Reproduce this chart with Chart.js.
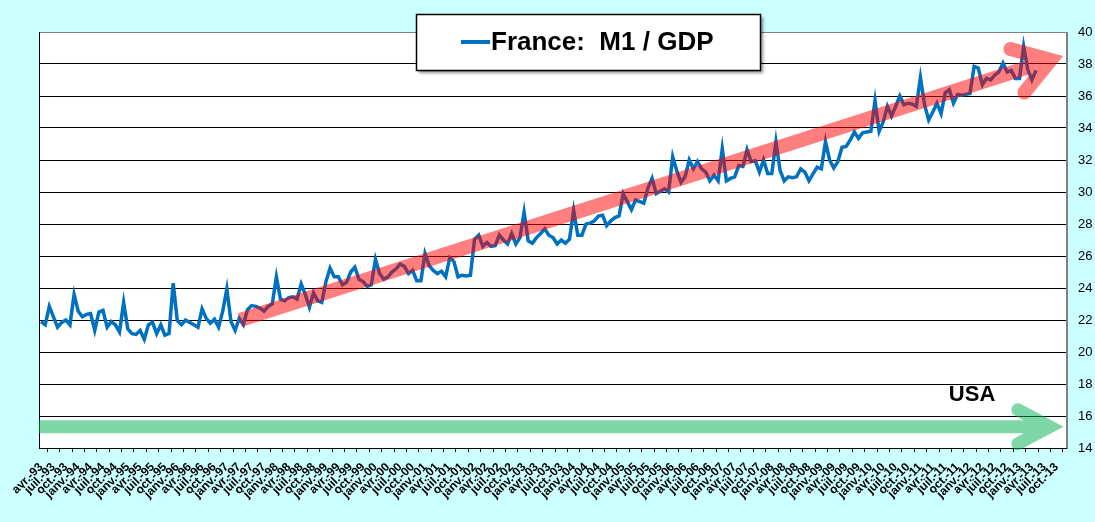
<!DOCTYPE html>
<html>
<head>
<meta charset="utf-8">
<script src="https://cdn.jsdelivr.net/npm/chart.js@4"></script>
<style>
  html, body { margin: 0; padding: 0; background: #CCFFFF; }
  #c { display: block; }
</style>
</head>
<body>
<canvas id="c" width="1095" height="522"></canvas>
<script>
// ---------- DATA ----------
const monthNames = ['janv.','févr.','mars','avr.','mai','juin','juil.','août','sept.','oct.','nov.','déc.'];
const firstYear = 1993;
const firstMonthIndex = 3;      // avr.
const monthCount = 249;         // avr.-93 .. déc.-13
const seriesLabel = 'France:  M1 / GDP';
const franceM1GDP = [
  21.9,21.7,22.85,22.2,21.55,21.85,22.0,21.7,23.6,22.55,22.2,22.35,
  22.4,21.35,22.5,22.6,21.55,21.9,21.7,21.25,23.1,21.45,21.15,21.1,
  21.35,20.8,21.7,21.85,21.15,21.7,21.05,21.15,24.3,21.95,21.7,22.0,
  21.85,21.7,21.55,22.7,22.1,21.8,22.05,21.55,22.55,23.95,21.9,21.35,
  22.1,21.7,22.65,22.9,22.85,22.75,22.55,22.85,23.0,24.7,23.3,23.2,
  23.4,23.45,23.3,24.25,23.6,22.8,23.7,23.2,23.1,24.4,25.25,24.7,
  24.7,24.2,24.35,25.0,25.3,24.55,24.4,24.1,24.2,25.8,24.9,24.55,
  24.7,25.0,25.2,25.5,25.35,24.9,25.1,24.45,24.45,26.15,25.4,25.1,
  24.9,25.05,24.7,25.9,25.65,24.7,24.8,24.75,24.8,27.05,27.3,26.6,
  26.85,26.6,26.65,27.3,27.0,26.75,27.4,26.75,27.15,28.75,26.95,26.8,
  27.15,27.4,27.7,27.3,27.15,26.75,27.0,26.8,27.05,28.85,27.3,27.3,
  28.0,28.05,28.2,28.5,28.55,27.9,28.2,28.4,28.5,29.9,29.4,28.9,
  29.5,29.4,29.3,30.25,30.85,29.9,30.05,30.2,30.0,32.2,31.3,30.6,
  30.95,32.0,31.45,31.9,31.45,31.25,30.7,31.05,30.7,32.7,30.7,30.85,
  30.95,31.65,31.6,32.65,31.9,31.95,31.25,32.0,31.15,31.15,33.15,31.35,
  30.7,30.95,30.9,30.95,31.45,31.25,30.7,31.15,31.55,31.45,33.15,32.0,
  31.5,31.9,32.8,32.85,33.25,33.75,33.35,33.7,33.75,33.8,35.7,33.8,
  34.4,35.35,34.75,35.35,36.0,35.45,35.55,35.5,35.35,37.15,35.45,34.5,
  35.0,35.55,34.9,36.2,36.4,35.55,36.1,36.05,36.1,36.15,37.85,37.75,
  36.7,37.1,37.0,37.3,37.5,38.05,37.5,37.6,37.1,37.1,39.1,37.65,
  37.0,37.6
];
const yMin = 14, yMax = 40, yStep = 2;
const usaLabel = 'USA';

// labels built from month names
const monthLabels = [];
for (let k = 0; k < monthCount; k++) {
  const m = (firstMonthIndex + k) % 12;
  const y = firstYear + Math.floor((firstMonthIndex + k) / 12);
  monthLabels.push(monthNames[m] + '-' + String(y % 100).padStart(2, '0'));
}

// ---------- annotation geometry (data units) ----------
const redArrow = { from: [48.2, 22.0], to: [244.6, 38.25], wingDeg: 33, wingLen: 42, width: 14, color: '#FF0000' };
const greenArrow = { from: [-0.5, 15.33], to: [244.3, 15.33], wingDeg: 28, wingLen: 36, width: 13, color: '#00B050' };
const usaPos = [225.5, 17.3];

const FONT = '"Liberation Sans", Arial, sans-serif';

function drawArrow(ctx, xs, ys, a, chart) {
  const x1 = xs.getPixelForValue(a.from[0]), y1 = ys.getPixelForValue(a.from[1]);
  const x2 = xs.getPixelForValue(a.to[0]), y2 = ys.getPixelForValue(a.to[1]);
  const ang = Math.atan2(y1 - y2, x1 - x2);
  const w = a.wingDeg * Math.PI / 180;
  const off = document.createElement('canvas');
  off.width = chart.width; off.height = chart.height;
  const o = off.getContext('2d');
  o.strokeStyle = a.color;
  o.fillStyle = a.color;
  o.lineWidth = a.width;
  o.lineJoin = 'miter';
  o.miterLimit = 10;
  // shaft
  o.lineCap = 'butt';
  o.beginPath();
  o.moveTo(x1, y1);
  o.lineTo(x2, y2);
  o.stroke();
  // head
  o.lineCap = 'round';
  o.beginPath();
  o.moveTo(x2 + Math.cos(ang + w) * a.wingLen, y2 + Math.sin(ang + w) * a.wingLen);
  o.lineTo(x2, y2);
  o.lineTo(x2 + Math.cos(ang - w) * a.wingLen, y2 + Math.sin(ang - w) * a.wingLen);
  o.stroke();
  ctx.save();
  ctx.globalAlpha = 0.5;
  ctx.drawImage(off, 0, 0);
  ctx.restore();
}

const decorPlugin = {
  id: 'decor',
  beforeDraw(chart) {
    const { ctx, chartArea: ca } = chart;
    ctx.save();
    ctx.fillStyle = '#CCFFFF';
    ctx.fillRect(0, 0, chart.width, chart.height);
    ctx.fillStyle = '#FFFFFF';
    ctx.fillRect(ca.left, ca.top, ca.right - ca.left, ca.bottom - ca.top);
    ctx.restore();
  },
  afterDatasetsDraw(chart) {
    const { ctx, chartArea: ca } = chart;
    const xs = chart.scales.x, ys = chart.scales.y;
    ctx.save();
    ctx.lineWidth = 1;
    ctx.strokeStyle = '#808080';
    ctx.beginPath();
    ctx.moveTo(ca.left, ca.top + 0.5); ctx.lineTo(ca.right, ca.top + 0.5);
    ctx.moveTo(ca.right - 0.5, ca.top); ctx.lineTo(ca.right - 0.5, ca.bottom);
    ctx.stroke();
    ctx.strokeStyle = '#000';
    ctx.beginPath();
    ctx.moveTo(ca.left + 0.5, ca.top); ctx.lineTo(ca.left + 0.5, ca.bottom);
    ctx.stroke();
    ctx.restore();

    drawArrow(ctx, xs, ys, redArrow, chart);
    drawArrow(ctx, xs, ys, greenArrow, chart);

    ctx.save();
    ctx.fillStyle = '#000';
    ctx.font = 'bold 22px ' + FONT;
    ctx.textAlign = 'center';
    ctx.textBaseline = 'middle';
    ctx.fillText(usaLabel, xs.getPixelForValue(usaPos[0]), ys.getPixelForValue(usaPos[1]));
    ctx.restore();
  },
  afterDraw(chart) {
    const { ctx } = chart;
    const bx = 416, by = 14, bw = 344, bh = 56;
    ctx.save();
    ctx.shadowColor = 'rgba(0,0,0,0.45)';
    ctx.shadowOffsetX = 3;
    ctx.shadowOffsetY = 3;
    ctx.shadowBlur = 3;
    ctx.fillStyle = '#FFFFFF';
    ctx.fillRect(bx, by, bw, bh);
    ctx.restore();
    ctx.save();
    ctx.strokeStyle = '#000';
    ctx.lineWidth = 1.5;
    ctx.strokeRect(bx + 0.5, by + 0.5, bw, bh);
    ctx.strokeStyle = '#0070C0';
    ctx.lineWidth = 4;
    ctx.beginPath();
    ctx.moveTo(461, 42); ctx.lineTo(490, 42);
    ctx.stroke();
    ctx.fillStyle = '#000';
    ctx.font = 'bold 26px ' + FONT;
    ctx.textAlign = 'left';
    ctx.textBaseline = 'alphabetic';
    ctx.fillText(chart.data.datasets[0].label, 491, 50);
    ctx.restore();
  }
};

new Chart(document.getElementById('c'), {
  type: 'line',
  data: {
    labels: monthLabels,
    datasets: [{
      label: seriesLabel,
      data: franceM1GDP,
      borderColor: '#0070C0',
      borderWidth: 3.5,
      pointRadius: 0,
      tension: 0,
      fill: false
    }]
  },
  options: {
    responsive: false,
    animation: false,
    devicePixelRatio: 1,
    layout: { padding: { left: 39, top: 32, right: 0, bottom: 0 } },
    plugins: { legend: { display: false }, tooltip: { enabled: false } },
    scales: {
      x: {
        type: 'category',
        offset: true,
        grid: { offset: true, drawOnChartArea: false, drawTicks: true, tickLength: 4, color: '#000' },
        border: { display: true, color: '#000', width: 1 },
        ticks: {
          autoSkip: false,
          maxRotation: 45,
          minRotation: 45,
          padding: 8,
          color: '#000',
          font: { family: FONT, size: 12, weight: 'bold' },
          callback: function (val, idx) { return idx % 3 === 0 ? this.getLabelForValue(val) : null; }
        },
        afterFit: s => { s.height = 74; }
      },
      y: {
        position: 'right',
        min: yMin,
        max: yMax,
        ticks: { stepSize: yStep, color: '#000', padding: 11, font: { family: FONT, size: 13 } },
        grid: { drawTicks: false, color: ctx => (ctx.tick && ctx.tick.value === yMax) ? '#808080' : '#000', lineWidth: 1 },
        border: { display: true, color: '#808080' },
        afterFit: s => { s.width = 28; }
      }
    }
  },
  plugins: [decorPlugin]
});
</script>
</body>
</html>
